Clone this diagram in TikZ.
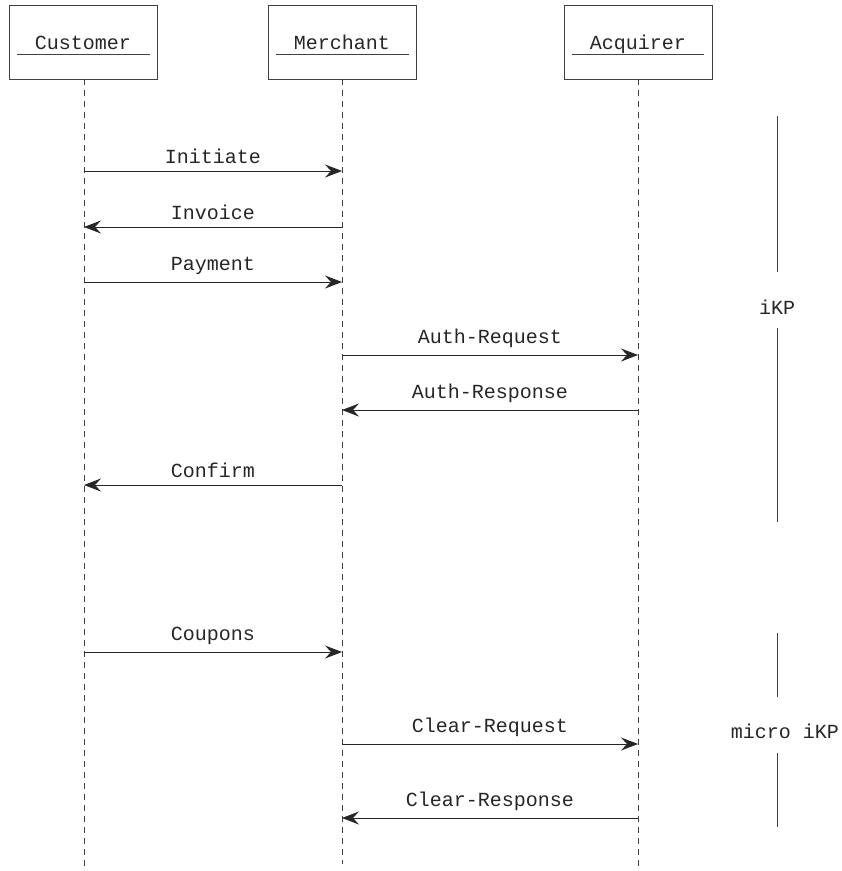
\documentclass[tikz,border=0pt]{standalone}
\usepackage{fontspec}
\setmonofont{Liberation Mono}
\usetikzlibrary{arrows.meta}
\begin{document}
\begin{tikzpicture}[x=1pt,y=-1pt,
  every node/.style={font=\ttfamily\fontsize{20}{24}\selectfont, text=black!85},
  actor/.style={draw=black!75, line width=0.8pt, minimum width=148pt, minimum height=74pt, inner sep=0pt},
  uline/.style={draw=black!75, line width=0.8pt},
  life/.style={draw=black!75, line width=0.7pt, dash pattern=on 6pt off 5pt},
  msg/.style={draw=black!85, line width=0.8pt, -{Stealth[length=17pt,width=13pt,inset=6pt]}},
  lbl/.style={above, inner sep=3pt, yshift=4pt},
  bar/.style={draw=black!75, line width=0.8pt}]
\useasboundingbox (0,0) rectangle (842,871);
% actors
\node[actor] (cust) at (83,42) {};
\node[actor] (merc) at (342,42) {};
\node[actor] (acq) at (638,42) {};
\node[anchor=base] (custl) at (83,49) {Customer};
\node[anchor=base] (mercl) at (342,49) {Merchant};
\node[anchor=base] (acql) at (638,49) {Acquirer};
\draw[uline] (17,54) -- (150,54);
\draw[uline] (276,54) -- (409,54);
\draw[uline] (572,54) -- (704,54);
% lifelines
\coordinate (custend) at (84,871);
\coordinate (mercend) at (342,864);
\coordinate (acqend) at (638,871);
\draw[life] (cust.south -| custend) -- (custend);
\draw[life] (merc.south) -- (mercend);
\draw[life] (acq.south) -- (acqend);
% message points
\coordinate (c1) at (84,171);  \coordinate (m1) at (342,171);
\coordinate (c2) at (84,227);  \coordinate (m2) at (342,227);
\coordinate (c3) at (84,282);  \coordinate (m3) at (342,282);
\coordinate (m4) at (342,355); \coordinate (a4) at (638,355);
\coordinate (m5) at (342,410); \coordinate (a5) at (638,410);
\coordinate (c6) at (84,485);  \coordinate (m6) at (342,485);
\coordinate (c7) at (84,652);  \coordinate (m7) at (342,652);
\coordinate (m8) at (342,744); \coordinate (a8) at (638,744);
\coordinate (m9) at (342,818); \coordinate (a9) at (638,818);
% messages
\draw[msg] (c1) -- node[lbl] (l1) {Initiate} (m1);
\draw[msg] (m2) -- node[lbl] (l2) {Invoice} (c2);
\draw[msg] (c3) -- node[lbl] (l3) {Payment} (m3);
\draw[msg] (m4) -- node[lbl] (l4) {Auth-Request} (a4);
\draw[msg] (a5) -- node[lbl] (l5) {Auth-Response} (m5);
\draw[msg] (m6) -- node[lbl] (l6) {Confirm} (c6);
\draw[msg] (c7) -- node[lbl] (l7) {Coupons} (m7);
\draw[msg] (m8) -- node[lbl] (l8) {Clear-Request} (a8);
\draw[msg] (a9) -- node[lbl] (l9) {Clear-Response} (m9);
% phases
\node (ikp) at (777,307) {iKP};
\coordinate (ikpt) at (777,116);
\coordinate (ikpb) at (777,522);
\draw[bar] (ikpt) -- (777,272);
\draw[bar] (777,328) -- (ikpb);
\node (mikp) at (785,731) {micro iKP};
\coordinate (mikpt) at (777,633);
\coordinate (mikpb) at (777,827);
\draw[bar] (mikpt) -- (777,697);
\draw[bar] (777,753) -- (mikpb);
\end{tikzpicture}
\end{document}
